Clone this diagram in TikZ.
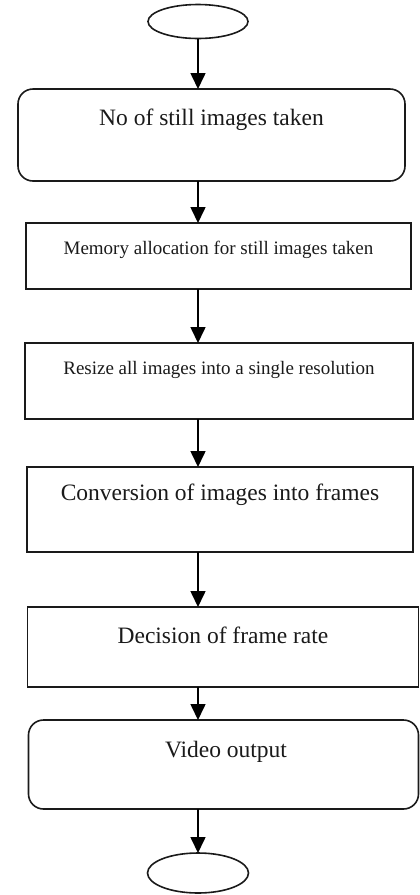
\documentclass[tikz,border=0pt]{standalone}
\usepackage{fontspec}
\setmainfont{Liberation Serif}
\usetikzlibrary{arrows.meta,shapes.geometric}
\definecolor{c1a1a1a}{RGB}{26,26,26}
\def \bigtext {\fontsize{23.5}{28}\selectfont}
\def \smalltext {\fontsize{19}{22}\selectfont}

\begin{document}
\begin{tikzpicture}[x=1pt, y=-1pt, inner sep=0pt, outer sep=0pt,
  terminal/.style={draw=c1a1a1a, line width=1.6pt, ellipse, minimum width=100pt, minimum height=34pt},
  stepbox/.style={draw=c1a1a1a, line width=1.6pt, rectangle},
  roundbox/.style={stepbox, rounded corners=15pt},
  flowarrow/.style={draw=black, line width=1.6pt, -{Triangle[width=15pt,length=16pt]}}]
  \useasboundingbox (0, 0) rectangle (420, 895);

  \node[terminal] (start) at (198, 21.5){};

  \node[roundbox, minimum width=387pt, minimum height=92pt] (count) at (211.5, 135){};
  \node[text=c1a1a1a] (text1) at (211.5, 120){\bigtext No of still images taken};

  \node[stepbox, minimum width=385pt, minimum height=66pt] (alloc) at (218.5, 256){};
  \node[text=c1a1a1a] (text2) at (218.5, 250){\smalltext Memory allocation for still images taken};

  \node[stepbox, minimum width=388pt, minimum height=76pt] (resize) at (219, 381){};
  \node[text=c1a1a1a] (text3) at (219, 370){\smalltext Resize all images into a single resolution};

  \node[stepbox, minimum width=386pt, minimum height=85pt] (frames) at (220, 509.5){};
  \node[text=c1a1a1a] (text4) at (220, 495){\bigtext Conversion of images into frames};

  \node[stepbox, minimum width=391pt, minimum height=80pt] (rate) at (223, 647){};
  \node[text=c1a1a1a] (text5) at (223, 635){\bigtext Decision of frame rate};

  \node[roundbox, minimum width=390pt, minimum height=89pt] (video) at (223.5, 764.5){};
  \node[text=c1a1a1a] (text6) at (226, 752){\bigtext Video output};

  \node[terminal, minimum width=101pt, minimum height=40pt] (stop) at (198, 873){};

  \foreach \a/\b in {start/count, count/alloc, alloc/resize, resize/frames, frames/rate, rate/video, video/stop}
    \draw[flowarrow] (\a.south -| start.south) -- (\b.north -| start.south);

\end{tikzpicture}
\end{document}
